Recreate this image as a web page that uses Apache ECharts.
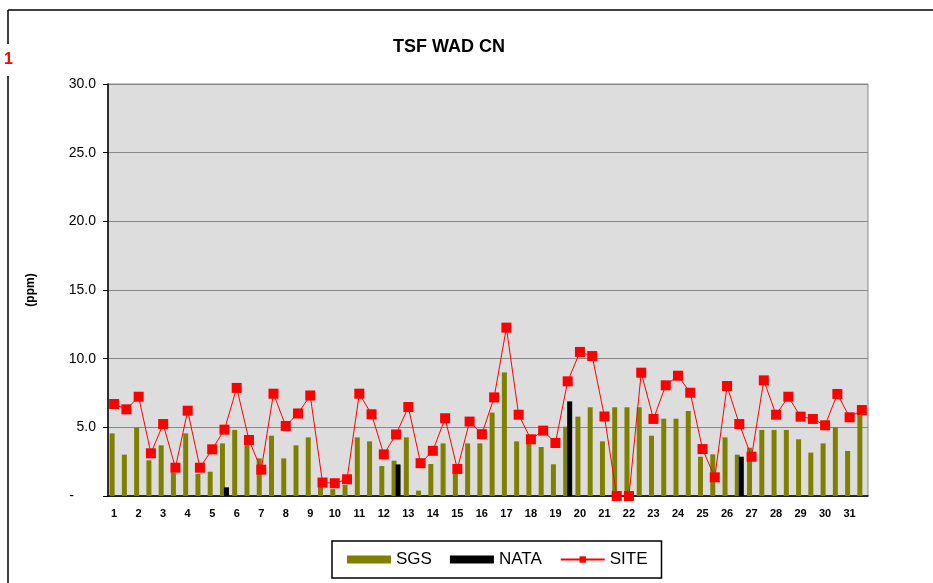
<!DOCTYPE html>
<html>
<head>
<meta charset="utf-8" />
<title>TSF WAD CN</title>
<script src="https://cdn.jsdelivr.net/npm/echarts@6.0.0/dist/echarts.min.js"></script>
<style>
  html, body { margin: 0; padding: 0; background: #fff; }
  #chart { width: 933px; height: 583px; }
</style>
</head>
<body>
<div id="chart"></div>
<script>
// day numbers shown under every second sample
const dayLabels = ["1", "2", "3", "4", "5", "6", "7", "8", "9", "10", "11", "12", "13", "14", "15", "16",
  "17", "18", "19", "20", "21", "22", "23", "24", "25", "26", "27", "28", "29", "30", "31"];

const yTicks = [0, 5, 10, 15, 20, 25, 30];

const sgs = [4.56, 3.01, 4.98, 2.6, 3.69, 1.7, 4.56, 1.6, 1.77, 3.83, 4.81, 3.79, 2.74, 4.39, 2.74, 3.69,
  4.27, 0.7, 0.5, 0.8, 4.27, 3.98, 2.18, 2.57, 4.27, 0.39, 2.33, 3.83, 1.8, 3.83, 3.83, 6.07,
  9.0, 3.98, 3.8, 3.57, 2.31, 5.05, 5.78, 6.46, 3.98, 6.46, 6.46, 6.46, 4.39, 5.63, 5.63, 6.19,
  2.86, 3.03, 4.27, 3.01, 3.52, 4.81, 4.81, 4.81, 4.13, 3.16, 3.83, 5.0, 3.28, 5.97];

const nata = [null, null, null, null, null, null, null, null, null, 0.63, null, null, null, null, null, null,
  null, null, null, null, null, null, null, 2.3, null, null, null, null, null, null, null, null,
  null, null, null, null, null, 6.89, null, null, null, null, null, null, null, null, null, null,
  null, null, null, 2.86, null, null, null, null, null, null, null, null, null, null];

const site = [6.7, 6.31, 7.23, 3.11, 5.24, 2.06, 6.21, 2.06, 3.4, 4.83, 7.87, 4.08, 1.92, 7.45, 5.1, 6.01,
  7.32, 0.98, 0.93, 1.22, 7.45, 5.95, 3.03, 4.48, 6.48, 2.39, 3.29, 5.66, 1.97, 5.42, 4.5, 7.18,
  12.26, 5.92, 4.13, 4.76, 3.86, 8.35, 10.49, 10.19, 5.79, 0, 0, 8.98, 5.61, 8.06, 8.76, 7.52,
  3.42, 1.36, 8.01, 5.24, 2.86, 8.42, 5.92, 7.23, 5.78, 5.61, 5.15, 7.43, 5.73, 6.26];

// two samples per day, only the first one carries the day number
const categories = [];
dayLabels.forEach((d) => {
  categories.push(d);
  categories.push("");
});

const font = "'Liberation Sans', Arial, sans-serif";

const option = {
  animation: false,
  backgroundColor: "#fff",
  textStyle: { fontFamily: font },
  graphic: [
    // frame round the sheet
    { type: "line", shape: { x1: 8, y1: 10, x2: 933, y2: 10 }, style: { stroke: "#000", lineWidth: 1.5 } },
    { type: "line", shape: { x1: 8, y1: 10, x2: 8, y2: 44 }, style: { stroke: "#000", lineWidth: 1.5 } },
    { type: "line", shape: { x1: 8, y1: 76, x2: 8, y2: 583 }, style: { stroke: "#000", lineWidth: 1.5 } },
    {
      type: "text", x: 4, y: 60,
      style: { text: "1", fill: "#ff0000", font: "bold 16px " + font, textVerticalAlign: "middle" },
    },
    {
      type: "text", x: 449, y: 47,
      style: { text: "TSF WAD CN", fill: "#000", font: "bold 18px " + font, textAlign: "center", textVerticalAlign: "middle" },
    },
  ],
  legend: {
    left: 332,
    top: 541,
    padding: [10, 14, 10, 15],
    itemGap: 18,
    itemWidth: 44,
    itemHeight: 8,
    borderColor: "#000",
    borderWidth: 1.5,
    textStyle: { fontSize: 17, color: "#000", fontFamily: font },
    data: [
      { name: "SGS", icon: "rect" },
      { name: "NATA", icon: "rect" },
      { name: "SITE" },
    ],
  },
  grid: {
    left: 108,
    right: 65,
    top: 84,
    bottom: 87,
    show: true,
    backgroundColor: "#dddddd",
    borderColor: "#888",
    borderWidth: 1,
  },
  xAxis: {
    type: "category",
    data: categories,
    boundaryGap: true,
    axisLine: { lineStyle: { color: "#000", width: 1.5 } },
    axisTick: { interval: 1, length: 5, lineStyle: { color: "#000" } },
    axisLabel: { interval: 0, margin: 12, fontSize: 11, fontWeight: "bold", color: "#000" },
  },
  yAxis: {
    type: "value",
    min: yTicks[0],
    max: yTicks[yTicks.length - 1],
    interval: 5,
    name: "(ppm)",
    nameLocation: "middle",
    nameRotate: 90,
    nameGap: 71,
    nameTextStyle: { fontSize: 12, fontWeight: "bold", color: "#000" },
    axisLine: { show: true, lineStyle: { color: "#000", width: 1.5 } },
    axisTick: { show: true, length: 5, lineStyle: { color: "#000" } },
    axisLabel: {
      margin: 12,
      fontSize: 14,
      color: "#000",
      formatter: (v) => (v === 0 ? "{d|-}" : v.toFixed(1)),
      rich: { d: { fontSize: 14, color: "#000", padding: [0, 22, 0, 0] } },
    },
    splitLine: { lineStyle: { color: "#888", width: 1 } },
  },
  series: [
    {
      name: "SGS",
      type: "bar",
      data: sgs,
      barWidth: 5,
      barGap: "-20%",
      itemStyle: { color: "#808000" },
    },
    {
      name: "NATA",
      type: "bar",
      data: nata,
      barWidth: 5,
      itemStyle: { color: "#000" },
    },
    {
      name: "SITE",
      type: "line",
      data: site,
      symbol: "rect",
      symbolSize: 10,
      z: 5,
      itemStyle: { color: "#ff0000" },
      lineStyle: { color: "#ff0000", width: 1 },
    },
  ],
};

const myChart = echarts.init(document.getElementById("chart"));
myChart.setOption(option);
</script>
</body>
</html>
